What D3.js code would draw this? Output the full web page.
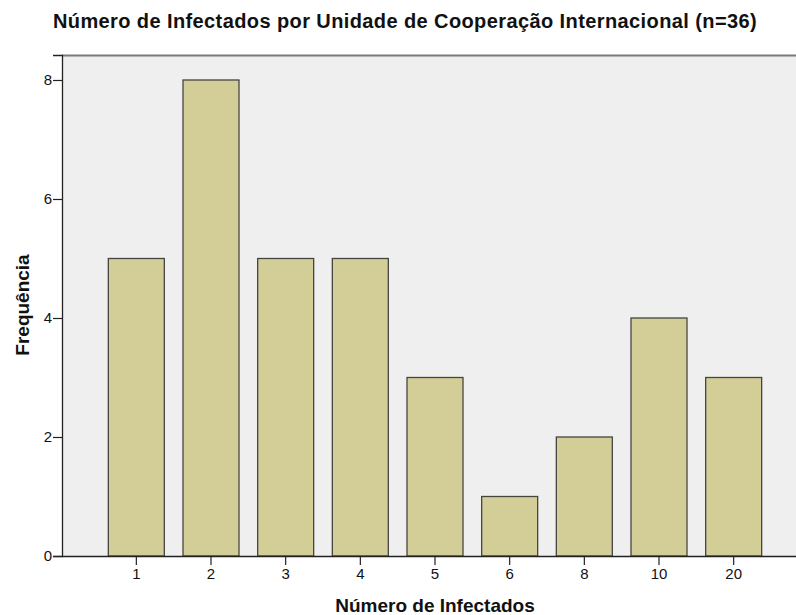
<!DOCTYPE html>
<html>
<head>
<meta charset="utf-8">
<script src="https://cdn.jsdelivr.net/npm/d3@7"></script>
<style>
  body { margin: 0; background: #fff; }
  text { font-family: "Liberation Sans", Arial, sans-serif; fill: #111; }
</style>
</head>
<body>
<svg id="svg-main" width="796" height="615"></svg>
<script>
// valores
var categorias = ["1", "2", "3", "4", "5", "6", "8", "10", "20"];
var frequencias = [5, 8, 5, 5, 3, 1, 2, 4, 3];
var yTicks = [0, 2, 4, 6, 8];

var svg = d3.select("#svg-main");

var plot = { left: 62, top: 55, right: 810, bottom: 556 };

var x = d3.scaleBand()
    .domain(categorias)
    .range([99, 771])
    .paddingInner(0.25)
    .paddingOuter(0.125);

var y = d3.scaleLinear()
    .domain([0, 8.42])
    .range([plot.bottom, plot.top]);

// fundo da área do gráfico
svg.append("rect")
    .attr("x", plot.left)
    .attr("y", plot.top)
    .attr("width", plot.right - plot.left)
    .attr("height", plot.bottom - plot.top)
    .attr("fill", "#efefef");

// borda superior
svg.append("line")
    .attr("x1", plot.left).attr("x2", plot.right)
    .attr("y1", plot.top + 0.5).attr("y2", plot.top + 0.5)
    .attr("stroke", "#7a7a7a")
    .attr("stroke-width", 2);

// barras
svg.selectAll("rect.bar")
    .data(categorias)
    .enter()
    .append("rect")
    .attr("class", "bar")
    .attr("x", function(d) { return x(d); })
    .attr("y", function(d, i) { return y(frequencias[i]); })
    .attr("width", x.bandwidth())
    .attr("height", function(d, i) { return y(0) - y(frequencias[i]); })
    .attr("fill", "#d3ce97")
    .attr("stroke", "#454540")
    .attr("stroke-width", 1.3);

// eixo y
var yAxis = svg.append("g")
    .attr("transform", "translate(" + plot.left + ",0)")
    .call(d3.axisLeft(y).tickValues(yTicks).tickSize(9).tickPadding(1).tickFormat(d3.format("d")));
yAxis.select(".domain").attr("stroke", "#222").attr("stroke-width", 1.3);
yAxis.selectAll(".tick line").attr("stroke", "#222").attr("stroke-width", 1.2);
yAxis.selectAll(".tick text").style("font-size", "15px").attr("fill", "#222");

// eixo x
var xAxis = svg.append("g")
    .attr("transform", "translate(0," + plot.bottom + ")")
    .call(d3.axisBottom(x).tickSize(9).tickSizeOuter(0).tickPadding(3));
xAxis.select(".domain").attr("d", "M" + plot.left + ",0.5H" + plot.right)
    .attr("stroke", "#222").attr("stroke-width", 1.3);
xAxis.selectAll(".tick line").attr("stroke", "#222").attr("stroke-width", 1.2);
xAxis.selectAll(".tick text").style("font-size", "15px").attr("fill", "#222");

// títulos
svg.append("text")
    .attr("x", 405)
    .attr("y", 28)
    .attr("text-anchor", "middle")
    .attr("font-weight", "bold")
    .style("font-size", "20px")
    .style("letter-spacing", "0.4px")
    .text("Número de Infectados por Unidade de Cooperação Internacional (n=36)");

svg.append("text")
    .attr("x", 435)
    .attr("y", 612)
    .attr("text-anchor", "middle")
    .attr("font-weight", "bold")
    .style("font-size", "19px")
    .text("Número de Infectados");

svg.append("text")
    .attr("transform", "translate(29,305) rotate(-90)")
    .attr("text-anchor", "middle")
    .attr("font-weight", "bold")
    .style("font-size", "19px")
    .text("Frequência");
</script>
</body>
</html>
